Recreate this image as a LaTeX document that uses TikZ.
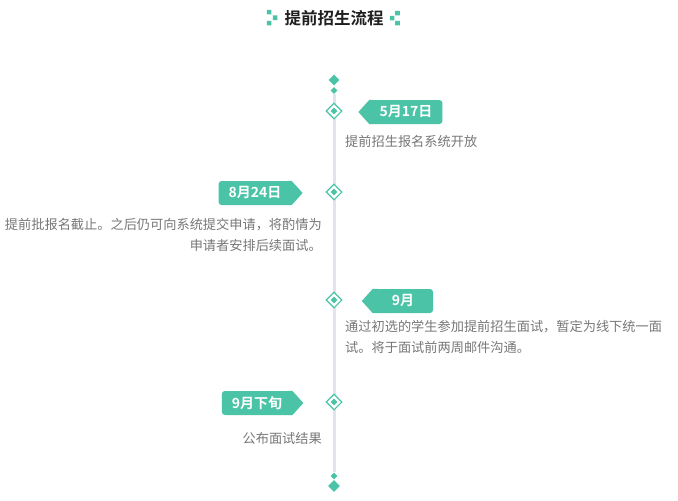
\documentclass[tikz,border=0pt]{standalone}
\usepackage{fontspec}
\usepackage{tikz}
\usetikzlibrary{positioning,calc,shapes.geometric}
\setmainfont{Noto Sans CJK SC}[BoldFont={Noto Sans CJK SC Bold}]
\definecolor{TAccent}{HTML}{4AC3A7}
\definecolor{TInk}{HTML}{1F1F1F}
\definecolor{TGray}{HTML}{777777}
\definecolor{TRule}{HTML}{E3E3EC}

\begin{document}
\begin{tikzpicture}[x=1pt,y=-1pt,
  every node/.style={inner sep=0pt},
  mstone/.style={diamond,draw=TAccent,fill=white,line width=1.1pt,minimum size=16pt},
  mdot/.style={diamond,fill=TAccent,minimum size=#1},
  badge/.style={fill=TAccent,rounded corners=3pt,minimum height=24pt,minimum width=60pt,
    inner xsep=10pt,text=white,font=\fontsize{14}{14}\selectfont\bfseries},
  desc/.style={text=TGray,font=\fontsize{13.2}{21}\selectfont}]
  \useasboundingbox (0,0) rectangle (678,501);

  % title
  \node[font=\fontsize{16.5}{16.5}\selectfont\bfseries, text=TInk] (title) at (334,18) {提前招生流程};
  \fill[TAccent] (266.8,9.8) rectangle ++(4.6,4.6) (272.8,15.4) rectangle ++(4.6,4.6) (266.8,20.8) rectangle ++(4.6,4.6);
  \fill[TAccent] (395.2,10.8) rectangle ++(4.6,4.6) (389.8,15.8) rectangle ++(4.6,4.6) (395.2,20.8) rectangle ++(4.6,4.6);

  % axis ends
  \node[mdot=11pt] (top)  at (334,80)  {};
  \node[mdot=7pt]  (tops) at (334,90.5) {};
  \node[mdot=7pt]  (bots) at (334,476) {};
  \node[mdot=12pt] (bot)  at (334,486) {};
  \draw[draw=TRule, line width=3pt] (tops.south) -- (bots.north);

  % milestones
  \node[mstone] (m1) at (334,111) {};  \node[mdot=7pt] at (m1) {};
  \node[mstone] (m2) at (334,192) {};  \node[mdot=7pt] at (m2) {};
  \node[mstone] (m3) at (334,300) {};  \node[mdot=7pt] at (m3) {};
  \node[mstone] (m4) at (334,402) {};  \node[mdot=7pt] at (m4) {};

  % badges
  \node[badge] (d1) at (406,112) {5月17日};
  \fill[TAccent] ($(d1.north west)+(4,0)$) -- (d1.north west) -- ($(d1.west)+(-11,0)$) -- (d1.south west) -- ($(d1.south west)+(4,0)$) -- cycle;
  \node[badge] (d2) at (255,193) {8月24日};
  \fill[TAccent] ($(d2.north east)+(-4,0)$) -- (d2.north east) -- ($(d2.east)+(11,0)$) -- (d2.south east) -- ($(d2.south east)+(-4,0)$) -- cycle;
  \node[badge] (d3) at (403,301) {9月};
  \fill[TAccent] ($(d3.north west)+(4,0)$) -- (d3.north west) -- ($(d3.west)+(-11,0)$) -- (d3.south west) -- ($(d3.south west)+(4,0)$) -- cycle;
  \node[badge] (d4) at (257,403) {9月下旬};
  \fill[TAccent] ($(d4.north east)+(-4,0)$) -- (d4.north east) -- ($(d4.east)+(11,0)$) -- (d4.south east) -- ($(d4.south east)+(-4,0)$) -- cycle;

  % texts
  \node[desc, anchor=west] (t1) at (345,141) {提前招生报名系统开放};
  \node[desc, anchor=north east, align=right] (t2) at (322,218) {提前批报名截止。之后仍可向系统提交申请，将酌情为\\申请者安排后续面试。};
  \node[desc, anchor=north west, align=left] (t3) at (345,320) {通过初选的学生参加提前招生面试，暂定为线下统一面\\试。将于面试前两周邮件沟通。};
  \node[desc, anchor=east] (t4) at (322,438) {公布面试结果};
\end{tikzpicture}
\end{document}
